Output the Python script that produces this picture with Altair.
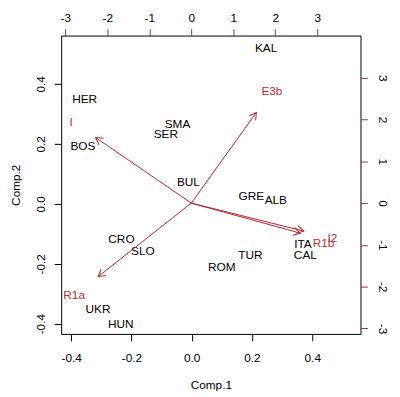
import math
import altair as alt
import pandas as pd

# ---- data ----
countries = ["KAL", "HER", "BOS", "SMA", "SER", "BUL", "GRE", "ALB",
             "CRO", "SLO", "ROM", "TUR", "ITA", "CAL", "UKR", "HUN"]
comp1 = [0.247, -0.355, -0.361, -0.047, -0.086, -0.011, 0.198, 0.279,
         -0.233, -0.162, 0.100, 0.195, 0.369, 0.377, -0.311, -0.235]
comp2 = [0.519, 0.348, 0.194, 0.265, 0.232, 0.071, 0.025, 0.014,
         -0.117, -0.159, -0.212, -0.170, -0.136, -0.172, -0.352, -0.401]

loadings = ["I", "E3b", "R1a", "R1b", "I2"]
load_x = [-2.86, 1.92, -2.79, 3.15, 3.36]
load_y = [1.94, 2.69, -2.21, -0.95, -0.84]
tip_x = [-2.28, 1.55, -2.22, 2.60, 2.68]
tip_y = [1.57, 2.17, -1.76, -0.72, -0.67]

ticks_primary = [-0.4, -0.2, 0.0, 0.2, 0.4]
ticks_secondary = [-3, -2, -1, 0, 1, 2, 3]

RED = "#C42A30"
ARROW = "#B02830"
TICKRED = "#A0303A"
FONT = "Liberation Sans"

scores = pd.DataFrame({"name": countries, "c1": comp1, "c2": comp2})
arrows = pd.DataFrame({"name": loadings, "lx": load_x, "ly": load_y,
                       "tx": tip_x, "ty": tip_y})
arrows["x0"] = 0.0
arrows["y0"] = 0.0
arrows["ang"] = [(math.degrees(math.atan2(-y, x)) + 360) % 360
                 for x, y in zip(tip_x, tip_y)]

sx1 = alt.Scale(domain=[-0.433, 0.560], nice=False, zero=False)
sy1 = alt.Scale(domain=[-0.434, 0.561], nice=False, zero=False)
sx2 = alt.Scale(domain=[-3.10, 4.03], nice=False, zero=False)
sy2 = alt.Scale(domain=[-3.13, 4.01], nice=False, zero=False)

fmt1 = "replace(format(datum.value, '.1f'), '\u2212', '-')"
fmt2 = "replace(format(datum.value, 'd'), '\u2212', '-')"

common = dict(grid=False, domain=False, ticks=True, tickSize=7,
              labelFont=FONT, labelFontSize=12, labelColor="black",
              labelFlush=False, labelOverlap=False,
              titleFont=FONT, titleFontSize=12, titleFontWeight="normal",
              titleColor="black")

ax_bottom = alt.Axis(orient="bottom", values=ticks_primary, labelExpr=fmt1,
                     title="Comp.1", labelBaseline="top", labelPadding=12,
                     titleX=152, titleY=55, titleBaseline="alphabetic",
                     titleAngle=0, tickColor="black", **common)
ax_left = alt.Axis(orient="left", values=ticks_primary, labelExpr=fmt1,
                   title="Comp.2", labelAngle=270, labelAlign="center",
                   labelBaseline="bottom", labelPadding=7,
                   titleX=-42, titleY=151.5, titleBaseline="alphabetic",
                   titleAngle=270, tickColor="black", **common)
ax_top = alt.Axis(orient="top", values=ticks_secondary, labelExpr=fmt2,
                  title=None, labelBaseline="bottom", labelPadding=4,
                  tickColor=TICKRED, **common)
ax_right = alt.Axis(orient="right", values=ticks_secondary, labelExpr=fmt2,
                    title=None, labelAngle=90, labelAlign="center",
                    labelBaseline="bottom", labelPadding=8,
                    tickColor=TICKRED, **common)

points = alt.Chart(scores).mark_text(
    font=FONT, fontSize=12, color="black", align="center", baseline="middle"
).encode(
    x=alt.X("c1:Q", scale=sx1, axis=ax_bottom),
    y=alt.Y("c2:Q", scale=sy1, axis=ax_left),
    text="name:N",
)

rules = alt.Chart(arrows).mark_rule(color=ARROW, strokeWidth=1).encode(
    x=alt.X("x0:Q", scale=sx2, axis=ax_top),
    y=alt.Y("y0:Q", scale=sy2, axis=ax_right),
    x2="tx:Q",
    y2="ty:Q",
)

heads = alt.Chart(arrows).mark_point(
    shape="M-1,-0.577L0,0L-1,0.577", filled=False, color=ARROW,
    strokeWidth=1, size=196, opacity=1
).encode(
    x=alt.X("tx:Q", scale=sx2, axis=ax_top),
    y=alt.Y("ty:Q", scale=sy2, axis=ax_right),
    angle=alt.Angle("ang:Q", scale=None),
)

labels = alt.Chart(arrows).mark_text(
    font=FONT, fontSize=12, color=RED, align="center", baseline="middle"
).encode(
    x=alt.X("lx:Q", scale=sx2, axis=ax_top),
    y=alt.Y("ly:Q", scale=sy2, axis=ax_right),
    text="name:N",
)

overlay = alt.layer(rules, heads, labels)

chart = alt.layer(points, overlay).resolve_scale(
    x="independent", y="independent"
).properties(
    width=304, height=303,
    background="white",
    autosize=alt.AutoSizeParams(type="none"),
    padding={"left": 54, "top": 25, "right": 32, "bottom": 56},
).configure_view(
    stroke="black", strokeWidth=1
)

chart.save("out.html", embed_options={"renderer": "svg", "actions": False})
